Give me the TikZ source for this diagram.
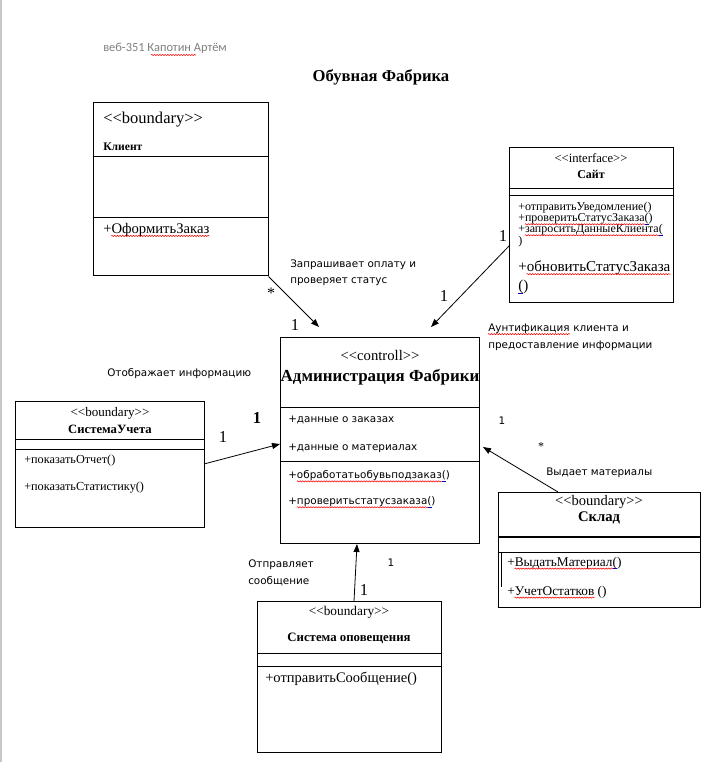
\documentclass[tikz,border=0pt]{standalone}
\usepackage{fontspec}
\setmainfont{Liberation Serif}
\newfontfamily\lblfont{DejaVu Sans}
\newfontfamily\hdrfont{Carlito}
\usetikzlibrary{arrows.meta,fit,decorations.pathmorphing}
\newcommand\LLt{<\kern0pt<}
\newcommand\GGt{>\kern0pt>}
\newcommand\fs[1]{\fontsize{#1}{#1}\selectfont}
\definecolor{hdrgray}{RGB}{128,128,128}
\definecolor{edgegray}{RGB}{200,200,200}
\tikzset{
  box/.style={draw, line width=0.75pt, inner sep=0pt},
  sepline/.style={line width=0.75pt},
  lt/.style={inner sep=0pt, anchor=west},
  ct/.style={inner sep=0pt, anchor=center},
  lbl/.style={inner sep=0pt, anchor=west, font=\lblfont\fs{7.8}},
  conn/.style={line width=0.6pt, -{Triangle[length=6pt,width=4.5pt]}},
  spell/.style={red, line width=0.4pt, decorate, decoration={snake, amplitude=0.45pt, segment length=2pt}},
  spellb/.style={blue!70!black, line width=0.5pt},
}
% squiggle under node #1 from left offset #2 to right offset #3 (pt)
\newcommand\squig[3]{\draw[spell] ([xshift=#2,yshift=-1.8pt]#1.base west) -- ([xshift=-#3,yshift=-1.8pt]#1.base east);}
\newcommand\bmark[3]{\draw[spellb] ([xshift=-#2,yshift=-1.8pt]#1.base east) -- ([xshift=-#3,yshift=-1.8pt]#1.base east);}
\begin{document}
\begin{tikzpicture}[x=0.75pt,y=-0.75pt]
\useasboundingbox (0,0) rectangle (705,762);
\fill[white] (0,0) rectangle (705,762);
\draw[edgegray, line width=1.5pt] (1,0) -- (1,762);

% header and title
\node[lt, font=\hdrfont\fs{9.3}, text=hdrgray] (hdr) at (103,48) {веб-351 Капотин Артём};
\draw[spell] (151,55) -- (196,55);
\node[ct, font=\bfseries\fs{12.5}] (title) at (381,77) {Обувная Фабрика};

% Client
\node[box, fit={(93,103)(268,276)}] (client) {};
\draw[sepline] (client.west |- 0,157) -- (client.east |- 0,157);
\draw[sepline] (client.west |- 0,218) -- (client.east |- 0,218);
\node[lt, font=\fs{12.4}] (clst) at (103,120) {\LLt boundary\GGt};
\node[lt, font=\bfseries\fs{8.7}] (clnm) at (103,147) {Клиент};
\node[lt, font=\fs{11}] (clm1) at (103,230) {+ОформитьЗаказ};
\squig{clm1}{6.2pt}{0pt}

% Site
\node[box, fit={(509,148)(673,303)}] (site) {};
\draw[sepline] (site.west |- 0,189) -- (site.east |- 0,189);
\draw[sepline] (site.west |- 0,196) -- (site.east |- 0,196);
\node[ct, font=\fs{9.5}] (sist) at (591,158) {\LLt interface\GGt};
\node[ct, font=\bfseries\fs{9}] (sinm) at (591,174) {Сайт};
\node[lt, font=\fs{9}] (sim1) at (518,208) {+отправитьУведомление()};
\node[lt, font=\fs{9}] (sim2) at (518,219) {+проверитьСтатусЗаказа()};
\node[lt, font=\fs{9}] (sim3) at (518,230) {+запроситьДанныеКлиента(};
\node[lt, font=\fs{9}] (sim3b) at (518,242) {)};
\node[lt, font=\fs{11.3}] (sim4) at (518,268) {+обновитьСтатусЗаказа};
\node[lt, font=\fs{11.3}] (sim4b) at (518,287) {()};
\squig{sim2}{5.1pt}{6pt}
\bmark{sim2}{6pt}{3pt}
\squig{sim3}{5.1pt}{3pt}
\bmark{sim3}{3pt}{0pt}
\squig{sim4}{6.4pt}{0pt}
\draw[spellb] ([yshift=-1.8pt]sim4b.base west) -- ([xshift=3.6pt,yshift=-1.8pt]sim4b.base west);

% Administration
\node[box, fit={(280,337)(479,543)}] (admin) {};
\draw[sepline] (admin.west |- 0,407) -- (admin.east |- 0,407);
\draw[sepline] (admin.west |- 0,461) -- (admin.east |- 0,461);
\node[ct, font=\fs{11}] (adst) at (380,355) {\LLt controll\GGt};
\node[ct, font=\bfseries\fs{12.7}] (adnm) at (380,377) {Администрация Фабрики};
\node[lbl] (ada1) at (288,420) {+данные о заказах};
\node[lbl] (ada2) at (288,448) {+данные о материалах};
\node[lbl] (adm1) at (288,476) {+обработатьобувьподзаказ()};
\node[lbl] (adm2) at (288,502) {+проверитьстатусзаказа()};
\squig{adm1}{6.5pt}{6pt}
\bmark{adm1}{6pt}{3pt}
\squig{adm2}{6.5pt}{6pt}
\bmark{adm2}{6pt}{3pt}

% SystemaUcheta
\node[box, fit={(15,401)(204,527)}] (sys) {};
\draw[sepline] (sys.west |- 0,439) -- (sys.east |- 0,439);
\draw[sepline] (sys.west |- 0,449) -- (sys.east |- 0,449);
\node[ct, font=\fs{9.8}] (syst) at (110,413) {\LLt boundary\GGt};
\node[ct, font=\bfseries\fs{9.5}] (synm) at (110,429) {СистемаУчета};
\node[lt, font=\fs{9.2}] (sym1) at (24,461) {+показатьОтчет()};
\node[lt, font=\fs{9.2}] (sym2) at (24,488) {+показатьСтатистику()};

% Sklad
\node[box, fit={(498,492)(700,607)}] (sklad) {};
\draw[line width=1.1pt] (sklad.west |- 0,537) -- (sklad.east |- 0,537);
\draw[sepline] (sklad.west |- 0,552) -- (sklad.east |- 0,552);
\draw[line width=1pt] (501.5,552) -- (501.5,587);
\node[ct, font=\fs{10.9}] (skst) at (599,502) {\LLt boundary\GGt};
\node[ct, font=\bfseries\fs{11}] (sknm) at (599,518) {Склад};
\node[lt, font=\fs{10}] (skm1) at (507,563) {+ВыдатьМатериал()};
\node[lt, font=\fs{10}] (skm2) at (507,592) {+УчетОстатков ()};
\squig{skm1}{5.6pt}{6.7pt}
\bmark{skm1}{6.7pt}{3.3pt}
\squig{skm2}{5.6pt}{9.2pt}

% Notification
\node[box, fit={(257,601)(441,752)}] (notif) {};
\draw[sepline] (notif.west |- 0,653) -- (notif.east |- 0,653);
\draw[sepline] (notif.west |- 0,666) -- (notif.east |- 0,666);
\node[ct, font=\fs{10}] (nost) at (349,612) {\LLt boundary\GGt};
\node[ct, font=\bfseries\fs{9.6}] (nonm) at (349,638) {Система оповещения};
\node[lt, font=\fs{10.9}] (nom1) at (265,679) {+отправитьСообщение()};

% connector end points
\coordinate (e1) at (319,327);
\coordinate (e2) at (431,327);
\coordinate (e3) at (280,444);
\coordinate (e4) at (483,447);
\coordinate (e5) at (357,544);
\coordinate (s2) at (509,246);
\coordinate (s3) at (204,464);
\coordinate (s4) at (558,492);
\coordinate (s5) at (354,601);

\draw[conn] (client.south east) -- (e1);
\draw[conn] (s2) -- (e2);
\draw[conn] (s3) -- (e3);
\draw[conn] (s4) -- (e4);
\draw[conn] (s5) -- (e5);

% multiplicities
\node[ct, font=\fs{12}] (m1a) at (271,293) {*};
\node[ct, font=\fs{12.5}] (m1b) at (295,325) {1};
\node[ct, font=\fs{12.5}] (m2a) at (503,236) {1};
\node[ct, font=\fs{12.5}] (m2b) at (444,296) {1};
\node[ct, font=\fs{12.5}] (m3a) at (223,437) {1};
\node[ct, font=\bfseries\fs{12.5}] (m3b) at (257,418) {1};
\node[ct, font=\lblfont\fs{7.8}] (m4a) at (502,421) {1};
\node[ct, font=\fs{9}] (m4b) at (541,447) {*};
\node[ct, font=\fs{12.5}] (m5a) at (364,590) {1};
\node[ct, font=\lblfont\fs{7.8}] (m5b) at (391,563) {1};

% association labels
\node[lbl] (l1a) at (290,265) {Запрашивает оплату и};
\node[lbl] (l1b) at (290,282) {проверяет статус};
\node[lbl] (l2a) at (488,329) {Аунтификация};
\node[lbl, anchor=base west] (l2c) at (l2a.base east) {\ клиента и};
\node[lbl] (l2b) at (488,346) {предоставление информации};
\squig{l2a}{0pt}{0pt}
\node[lbl] (l3) at (107,374) {Отображает информацию};
\node[lbl] (l4) at (546,473) {Выдает материалы};
\node[lbl] (l5a) at (248,565) {Отправляет};
\node[lbl] (l5b) at (248,581) {сообщение};
\end{tikzpicture}
\end{document}
